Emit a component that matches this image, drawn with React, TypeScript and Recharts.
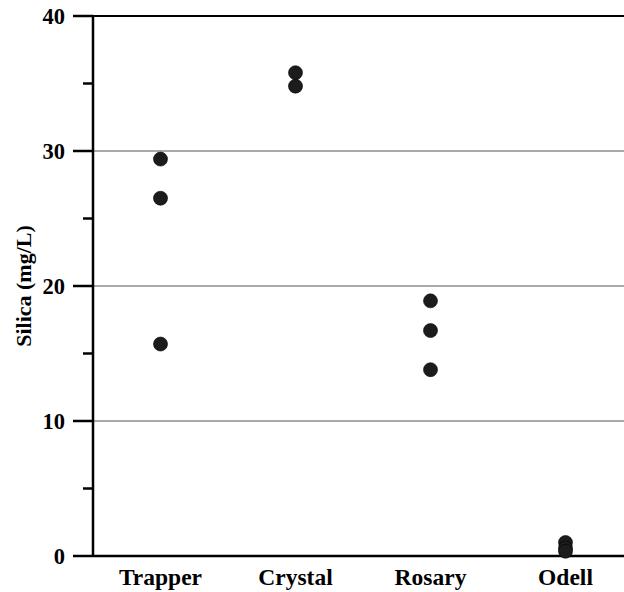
import React from "react";
import {
  ScatterChart,
  Scatter,
  XAxis,
  YAxis,
  ReferenceLine,
  Label,
} from "recharts";

const sites = ["Trapper", "Crystal", "Rosary", "Odell"];

const trapper = [29.4, 26.5, 15.7];
const crystal = [35.8, 34.8];
const rosary = [18.9, 16.7, 13.8];
const odell = [1.0, 0.6, 0.35];

const yTicks = [0, 5, 10, 15, 20, 25, 30, 35, 40];
const gridValues = [10, 20, 30];

const serif = "'Liberation Serif', 'Times New Roman', serif";

const points = [trapper, crystal, rosary, odell].flatMap((values, i) =>
  values.map((silica) => ({ site: i + 1, silica }))
);

function YTick(props: any) {
  const { x, y, payload } = props;
  const major = payload.value % 10 === 0;
  return (
    <g>
      <line
        x1={x - (major ? 20 : 10)}
        x2={x}
        y1={y}
        y2={y}
        stroke="#000"
        strokeWidth={2.5}
      />
      {major && (
        <text
          x={x - 28}
          y={y}
          textAnchor="end"
          dominantBaseline="central"
          fontFamily={serif}
          fontWeight="bold"
          fontSize={22.5}
          fill="#000"
        >
          {payload.value}
        </text>
      )}
    </g>
  );
}

function XTick(props: any) {
  const { x, y, payload } = props;
  // baseline sits about 29px under the x axis line
  return (
    <text
      x={x}
      y={y + 29}
      textAnchor="middle"
      fontFamily={serif}
      fontWeight="bold"
      fontSize={23.5}
      fill="#000"
    >
      {sites[payload.value - 1]}
    </text>
  );
}

function Dot(props: any) {
  const { cx, cy } = props;
  return <circle cx={cx} cy={cy} r={7} fill="#1c1c1c" stroke="#000" strokeWidth={0.6} />;
}

export default function App() {
  return (
    <div
      style={{
        position: "absolute",
        top: 0,
        left: 0,
        width: 624,
        height: 592,
        overflow: "hidden",
      }}
    >
      <ScatterChart
        width={640}
        height={592}
        margin={{ top: 16, right: 7, bottom: 0, left: 0 }}
      >
        <XAxis
          type="number"
          dataKey="site"
          domain={[0.5, 4.5]}
          ticks={[1, 2, 3, 4]}
          height={36}
          tickSize={0}
          tickMargin={0}
          tick={<XTick />}
          axisLine={{ stroke: "#000", strokeWidth: 2.5 }}
          tickLine={false}
        />
        <YAxis
          type="number"
          dataKey="silica"
          domain={[0, 40]}
          ticks={yTicks}
          width={93}
          tickSize={0}
          tickMargin={0}
          tick={<YTick />}
          axisLine={{ stroke: "#000", strokeWidth: 2.5 }}
          tickLine={false}
          interval={0}
        >
          <Label
            value="Silica (mg/L)"
            angle={-90}
            position="insideLeft"
            offset={23}
            style={{
              fontFamily: serif,
              fontWeight: "bold",
              fontSize: 22,
              fill: "#000",
              textAnchor: "middle",
            }}
          />
        </YAxis>
        {gridValues.map((v) => (
          <ReferenceLine key={v} y={v} stroke="#555" strokeWidth={1} />
        ))}
        <ReferenceLine y={40} stroke="#000" strokeWidth={2} />
        <Scatter data={points} shape={<Dot />} isAnimationActive={false} />
      </ScatterChart>
    </div>
  );
}
